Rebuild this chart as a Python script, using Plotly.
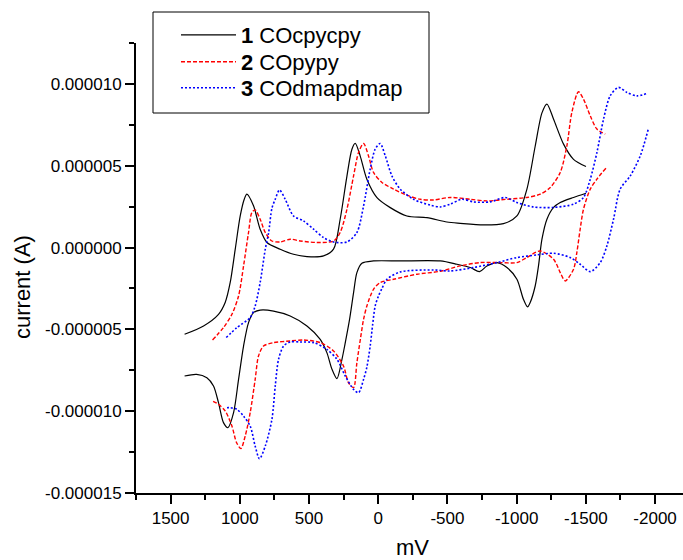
import plotly.graph_objects as go

# ---- data (mV, µA) ----
s1_up_mv = [1399, 1262, 1154, 1105, 1069, 1033, 997, 968, 949, 901, 853, 804, 708, 612, 515, 395, 323, 275, 226, 190, 166, 130, 82, 9, -87, -207, -352, -496, -592, -761, -905, -1002, -1074, -1134, -1183, -1219, -1267, -1339, -1411, -1501]
s1_up_ua = [-5.30, -4.79, -4.08, -3.34, -2.12, -0.10, 1.93, 2.95, 3.26, 2.55, 1.12, 0.31, -0.10, -0.41, -0.55, -0.51, -0.10, 1.73, 4.37, 6.01, 6.36, 5.59, 4.17, 3.05, 2.44, 1.93, 1.83, 1.56, 1.48, 1.38, 1.46, 1.93, 3.56, 6.19, 8.23, 8.77, 7.84, 6.32, 5.39, 4.95]
s1_dn_mv = [-1501, -1411, -1315, -1267, -1219, -1183, -1158, -1134, -1098, -1079, -1049, -1002, -930, -858, -785, -732, -665, -569, -448, -159, 34, 118, 154, 178, 207, 240, 262, 298, 334, 371, 419, 515, 636, 756, 853, 901, 937, 973, 1009, 1045, 1086, 1118, 1154, 1190, 1238, 1312, 1399]
s1_dn_ua = [3.32, 3.06, 2.75, 2.45, 1.73, 0.51, -1.12, -2.35, -3.36, -3.63, -3.16, -1.94, -1.22, -0.92, -1.13, -1.47, -1.22, -1.02, -0.82, -0.82, -0.82, -0.96, -1.53, -2.75, -4.39, -5.9, -6.83, -8.01, -7.44, -6.42, -5.61, -4.79, -4.18, -3.88, -3.82, -3.98, -4.59, -6.02, -8.06, -10.09, -11.01, -10.70, -9.48, -8.46, -7.95, -7.75, -7.85]

s2_up_mv = [1197, 1118, 1057, 1009, 973, 937, 913, 889, 853, 816, 768, 708, 636, 564, 443, 323, 275, 226, 178, 142, 106, 70, 34, -27, -111, -207, -303, -400, -520, -665, -785, -930, -1074, -1170, -1243, -1315, -1363, -1399, -1447, -1483, -1532, -1580, -1640]
s2_up_ua = [-5.65, -4.89, -4.08, -2.96, -1.13, 0.92, 2.14, 2.30, 1.73, 0.92, 0.40, 0.34, 0.51, 0.40, 0.31, 0.40, 0.92, 2.34, 4.38, 5.81, 6.36, 5.60, 4.59, 3.98, 3.57, 3.20, 2.95, 2.91, 3.06, 2.95, 2.85, 2.95, 3.06, 3.26, 3.67, 4.59, 6.21, 8.26, 9.52, 9.07, 8.05, 7.24, 6.93]
s2_dn_mv = [-1645, -1580, -1532, -1483, -1459, -1435, -1411, -1351, -1315, -1267, -1170, -1074, -1002, -881, -737, -592, -448, -280, -111, -14, 34, 82, 106, 118, 154, 178, 215, 251, 323, 419, 540, 636, 756, 829, 865, 889, 925, 961, 992, 1023, 1057, 1105, 1154, 1197]
s2_dn_ua = [4.85, 4.18, 3.57, 2.34, 1.12, -0.31, -1.33, -2.04, -1.53, -0.72, -0.21, -0.61, -0.92, -0.92, -0.92, -1.12, -1.45, -1.63, -1.94, -2.14, -2.55, -3.57, -4.39, -5.0, -7.03, -8.56, -8.26, -7.24, -6.32, -5.81, -5.65, -5.71, -5.81, -6.02, -6.63, -8.06, -10.09, -11.52, -12.28, -11.93, -10.91, -9.99, -9.58, -9.38]

s3_up_mv = [1098, 1021, 925, 889, 853, 816, 792, 768, 744, 713, 672, 612, 540, 467, 395, 323, 226, 154, 106, 58, 22, -14, -51, -99, -159, -255, -376, -448, -520, -605, -689, -809, -918, -1002, -1122, -1267, -1411, -1483, -1532, -1580, -1628, -1676, -1736, -1797, -1869, -1950]
s3_up_ua = [-5.50, -4.89, -4.28, -3.57, -2.14, -0.10, 0.9, 2.4, 2.95, 3.52, 2.95, 1.93, 1.63, 1.12, 0.61, 0.34, 0.34, 0.92, 2.54, 4.79, 6.01, 6.36, 5.60, 4.38, 3.57, 2.95, 2.59, 2.48, 2.65, 2.95, 2.79, 2.79, 3.06, 2.75, 2.48, 2.45, 2.65, 3.06, 4.18, 5.81, 7.85, 9.27, 9.79, 9.48, 9.27, 9.44]
s3_dn_mv = [-1950, -1893, -1821, -1748, -1700, -1652, -1604, -1532, -1459, -1387, -1267, -1147, -1002, -858, -689, -520, -400, -159, -63, -27, 0, 22, 40, 58, 82, 106, 142, 178, 238, 298, 371, 467, 564, 636, 684, 720, 744, 768, 816, 858, 889, 925, 973, 1021, 1069, 1105]
s3_dn_ua = [7.2, 5.60, 4.38, 3.57, 1.73, 0.10, -0.92, -1.47, -1.02, -0.61, -0.35, -0.45, -0.61, -0.92, -1.22, -1.43, -1.37, -1.49, -1.94, -2.5, -3.0, -3.57, -4.7, -6.02, -7.3, -8.06, -8.87, -8.67, -7.85, -6.83, -6.22, -5.81, -5.77, -5.77, -6.02, -6.83, -8.46, -10.50, -12.13, -12.91, -12.13, -10.91, -10.30, -9.89, -9.79, -9.79]

names = ["<b>1</b> COcpycpy", "<b>2</b> COpypy", "<b>3</b> COdmapdmap"]
colors = ["#000000", "#ff0000", "#0000ff"]
dashes = ["solid", "4px,2px", "2px,2px"]
widths = [1.2, 1.4, 1.6]

x_ticks = [1500, 1000, 500, 0, -500, -1000, -1500, -2000]
x_ticklabels = ["1500", "1000", "500", "0", "-500", "-1000", "-1500", "-2000"]
y_ticks = [-0.000015, -0.000010, -0.000005, 0.0, 0.000005, 0.000010]
y_ticklabels = ["-0.000015", "-0.000010", "-0.000005", "0.000000", "0.000005", "0.000010"]

series = [(s1_up_mv, s1_up_ua, s1_dn_mv, s1_dn_ua),
          (s2_up_mv, s2_up_ua, s2_dn_mv, s2_dn_ua),
          (s3_up_mv, s3_up_ua, s3_dn_mv, s3_dn_ua)]

FONT = "Arial, Liberation Sans, sans-serif"
W, H = 683, 560
L, R, T, B = 136, 0, 43, 67
pw, ph = W - L - R, H - T - B

def px(xp):
    return (xp - L) / pw

def py(yp):
    return (H - B - yp) / ph

legend_keys = ["legend", "legend2", "legend3"]
legend_rows = [35, 62, 88]

fig = go.Figure()
for (umv, uua, dmv, dua), nm, c, d, w, lk in zip(series, names, colors, dashes, widths, legend_keys):
    xs = list(umv) + [None] + list(dmv)
    ys = [v * 1e-6 for v in uua] + [None] + [v * 1e-6 for v in dua]
    fig.add_trace(go.Scatter(x=xs, y=ys, mode="lines", name=nm, legend=lk,
                             line=dict(color=c, dash=d, width=w, shape="spline", smoothing=0.8),
                             connectgaps=False))

legend_layout = {}
for lk, row in zip(legend_keys, legend_rows):
    legend_layout[lk] = dict(x=px(176), y=py(row), xanchor="left", yanchor="middle",
                             bgcolor="rgba(0,0,0,0)", borderwidth=0,
                             font=dict(family=FONT, size=22, color="black"),
                             itemwidth=55)

fig.update_layout(
    width=W, height=H,
    margin=dict(l=L, r=R, t=T, b=B, pad=0, autoexpand=False),
    paper_bgcolor="white", plot_bgcolor="white",
    font=dict(family=FONT, color="black", size=17),
    showlegend=True,
    shapes=[dict(type="rect", xref="paper", yref="paper",
                 x0=px(153), x1=px(429), y0=py(113), y1=py(12),
                 line=dict(color="black", width=1), fillcolor="rgba(0,0,0,0)")],
    annotations=[
        dict(text="current (A)", xref="paper", yref="paper", x=px(22), y=py(287),
             textangle=-90, showarrow=False, font=dict(family=FONT, size=22, color="black"),
             xanchor="center", yanchor="middle"),
        dict(text="mV", xref="paper", yref="paper", x=px(413), y=py(547),
             showarrow=False, font=dict(family=FONT, size=22, color="black"),
             xanchor="center", yanchor="middle"),
    ],
    **legend_layout,
)
fig.update_xaxes(range=[1750, -2202], showgrid=False, zeroline=False, automargin=False,
                 showline=True, linecolor="black", linewidth=2,
                 ticks="outside", ticklen=9, tickwidth=1.5, tickcolor="black",
                 tickvals=x_ticks, ticktext=x_ticklabels, tickfont=dict(size=17),
                 minor=dict(ticks="outside", ticklen=5, tickwidth=1.5, tickcolor="black", dtick=250, tick0=0))
fig.update_yaxes(range=[-0.000015, 0.0000125], showgrid=False, zeroline=False, automargin=False,
                 showline=True, linecolor="black", linewidth=2,
                 ticks="outside", ticklen=9, tickwidth=1.5, tickcolor="black",
                 tickvals=y_ticks, ticktext=y_ticklabels, tickfont=dict(size=17),
                 minor=dict(ticks="outside", ticklen=5, tickwidth=1.5, tickcolor="black", dtick=0.0000025, tick0=0))
fig.write_html("out.html", config={"displayModeBar": False},
               post_script="document.body.style.margin='0px';document.body.style.padding='0px';document.documentElement.style.overflow='hidden';")
